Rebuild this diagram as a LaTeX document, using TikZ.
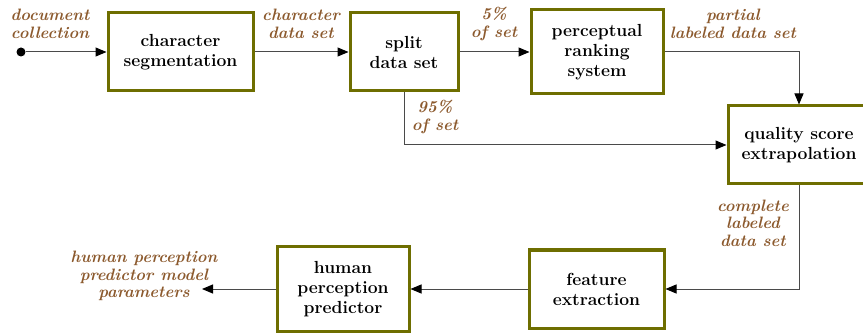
\documentclass[tikz,border=0pt]{standalone}
\usepackage{fontspec}
\usepackage{tikz}
\usetikzlibrary{arrows.meta,positioning,calc}
\definecolor{BoxOlive}{HTML}{6E6E00}
\definecolor{LabelBrown}{HTML}{8C5A2E}
\definecolor{LineGray}{HTML}{4A4A4A}

\begin{document}
\begin{tikzpicture}[
    x=1pt, y=-1pt,
    stage/.style={
      draw=BoxOlive,
      fill=white,
      line width=3pt,
      minimum width=#1,
      minimum height=78pt,
      align=center,
      font=\fontsize{17.5}{20}\selectfont\bfseries
    },
    lbl/.style={
      text=LabelBrown,
      align=center,
      inner sep=0pt,
      font=\fontsize{16.5}{17.5}\selectfont\bfseries\itshape
    },
    arr/.style={
      -{Triangle[length=11pt,width=9pt,color=black]},
      color=LineGray,
      line width=1pt
    },
    dot/.style={
      circle,
      fill=black,
      inner sep=0pt,
      minimum size=9pt
    }
  ]
  \useasboundingbox (0,0) rectangle (863,334);
  \clip (0,0) rectangle (863,334);

  % top row
  \node[dot] (start) at (21,52) {};
  \node[stage=145pt] (charseg) at (180.5,52) {character\\segmentation};
  \node[stage=108pt] (split) at (404,52) {split\\data set};
  \node[stage=132pt, minimum height=84pt] (rank) at (597,52) {perceptual\\ranking\\system};

  % right side
  \node[stage=142pt] (extra) at (799,145) {quality score\\extrapolation};

  % bottom row
  \node[stage=135pt] (feat) at (596.5,289) {feature\\extraction};
  \node[stage=132pt, minimum height=84pt] (pred) at (343,289) {human\\perception\\predictor};

  % labels
  \node[lbl] (docs)    at (50,24)   {document\\collection};
  \node[lbl] (chars)   at (301,24)  {character\\data set};
  \node[lbl] (five)    at (494,24)  {5\%\\of set};
  \node[lbl] (partial) at (733,24)  {partial\\labeled data set};
  \node[lbl] (ninety)  at (435,117) {95\%\\of set};
  \node[lbl] (full)    at (753,223) {complete\\labeled\\data set};
  \node[lbl] (params)  at (144,276) {human perception\\predictor model\\parameters};
  \coordinate (out) at (202,289);

  % connectors
  \draw[arr] (start) -- (charseg);
  \draw[arr] (charseg) -- (split);
  \draw[arr] (split) -- (rank);
  \draw[arr] (rank.east) -| (extra.north);
  \draw[arr] (split.south) |- (extra.west);
  \draw[arr] (extra.south) |- (feat.east);
  \draw[arr] (feat) -- (pred);
  \draw[arr] (pred.west) -- (out);

\end{tikzpicture}
\end{document}
